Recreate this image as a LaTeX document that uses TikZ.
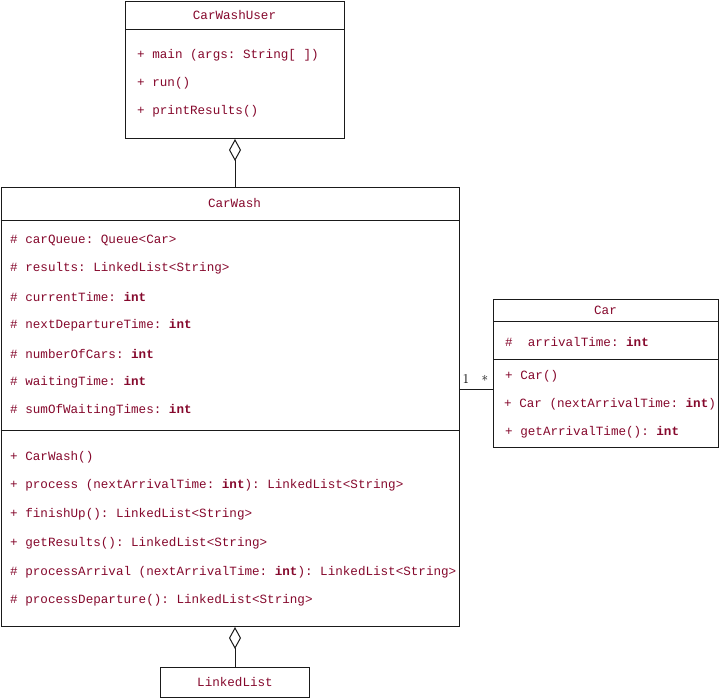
\documentclass[tikz,border=0pt]{standalone}
\usepackage{fontspec}
\setmonofont{Liberation Mono}
\usetikzlibrary{arrows.meta,positioning}
\definecolor{umlred}{HTML}{85082C}
\definecolor{umlline}{HTML}{1A1A1A}

\begin{document}
\begin{tikzpicture}[x=1pt, y=-1pt,
  every node/.style={font=\fontsize{12.6}{14}\selectfont\ttfamily, text=umlred, inner sep=0pt},
  classbox/.style={draw=umlline, line width=1pt, anchor=north west},
  member/.style={anchor=west},
  sep/.style={draw=umlline, line width=1pt},
  agg/.style={draw=umlline, line width=1pt, {Diamond[open, length=22pt, width=12pt]}-},
  mult/.style={font=\rmfamily\fontsize{13.5}{14}\selectfont, text=black}]

  \useasboundingbox (0,0) rectangle (719,698);

  % ============ CarWashUser ============
  \node[classbox, minimum width=219pt, minimum height=137pt] (user) at (125,1) {};
  \draw[sep] ([yshift=-29pt]user.north west) -- ([yshift=-29pt]user.north east);
  \node (usertitle) at (234.5,15) {CarWashUser};
  \node[member] (um1) at (137,55) {+ main (args: String[ ])};
  \node[member] (um2) at (137,83) {+ run()};
  \node[member] (um3) at (137,111) {+ printResults()};

  % ============ CarWash ============
  \node[classbox, minimum width=458.5pt, minimum height=439pt] (wash) at (0.5,187) {};
  \draw[sep] ([yshift=-33pt]wash.north west) -- ([yshift=-33pt]wash.north east);
  \draw[sep] ([yshift=-243pt]wash.north west) -- ([yshift=-243pt]wash.north east);
  \node (washtitle) at (234.5,203) {CarWash};
  % attributes
  \node[member] (wa1) at (10,240) {\# carQueue: Queue<Car>};
  \node[member] (wa2) at (10,268) {\# results: LinkedList<String>};
  \node[member] (wa3) at (10,297) {\# currentTime: \textbf{int}};
  \node[member] (wa4) at (10,325) {\# nextDepartureTime: \textbf{int}};
  \node[member] (wa5) at (10,354) {\# numberOfCars: \textbf{int}};
  \node[member] (wa6) at (10,382) {\# waitingTime: \textbf{int}};
  \node[member] (wa7) at (10,410) {\# sumOfWaitingTimes: \textbf{int}};
  % methods
  \node[member] (wm1) at (10,457) {+ CarWash()};
  \node[member] (wm2) at (10,485) {+ process (nextArrivalTime: \textbf{int}): LinkedList<String>};
  \node[member] (wm3) at (10,514) {+ finishUp(): LinkedList<String>};
  \node[member] (wm4) at (10,543) {+ getResults(): LinkedList<String>};
  \node[member] (wm5) at (10,572) {\# processArrival (nextArrivalTime: \textbf{int}): LinkedList<String>};
  \node[member] (wm6) at (10,600) {\# processDeparture(): LinkedList<String>};

  % ============ Car ============
  \node[classbox, minimum width=225pt, minimum height=148pt] (car) at (493,299) {};
  \draw[sep] ([yshift=-22pt]car.north west) -- ([yshift=-22pt]car.north east);
  \draw[sep] ([yshift=-60pt]car.north west) -- ([yshift=-60pt]car.north east);
  \node (cartitle) at (605.5,310) {Car};
  \node[member] (ca1) at (505,342) {\#~~arrivalTime: \textbf{int}};
  \node[member] (cm1) at (505,376) {+ Car()};
  \node[member] (cm2) at (504,404) {+ Car (nextArrivalTime: \textbf{int})};
  \node[member] (cm3) at (505,432) {+ getArrivalTime(): \textbf{int}};

  % ============ LinkedList ============
  \node[classbox, minimum width=149pt, minimum height=30pt] (list) at (160,667) {};
  \node (listtitle) at (list.center) {LinkedList};

  % ---- Connectors ----
  \draw[agg] (user.south) -- (user.south |- wash.north);
  \draw[agg] (list.north |- wash.south) -- (list.north);

  \coordinate (assoc) at (476,389);
  \draw[sep] (wash.east |- assoc) -- (car.west |- assoc);
  \node[mult] (one) at (466,379) {1};
  \node[mult] (many) at (485,380) {*};

\end{tikzpicture}
\end{document}
